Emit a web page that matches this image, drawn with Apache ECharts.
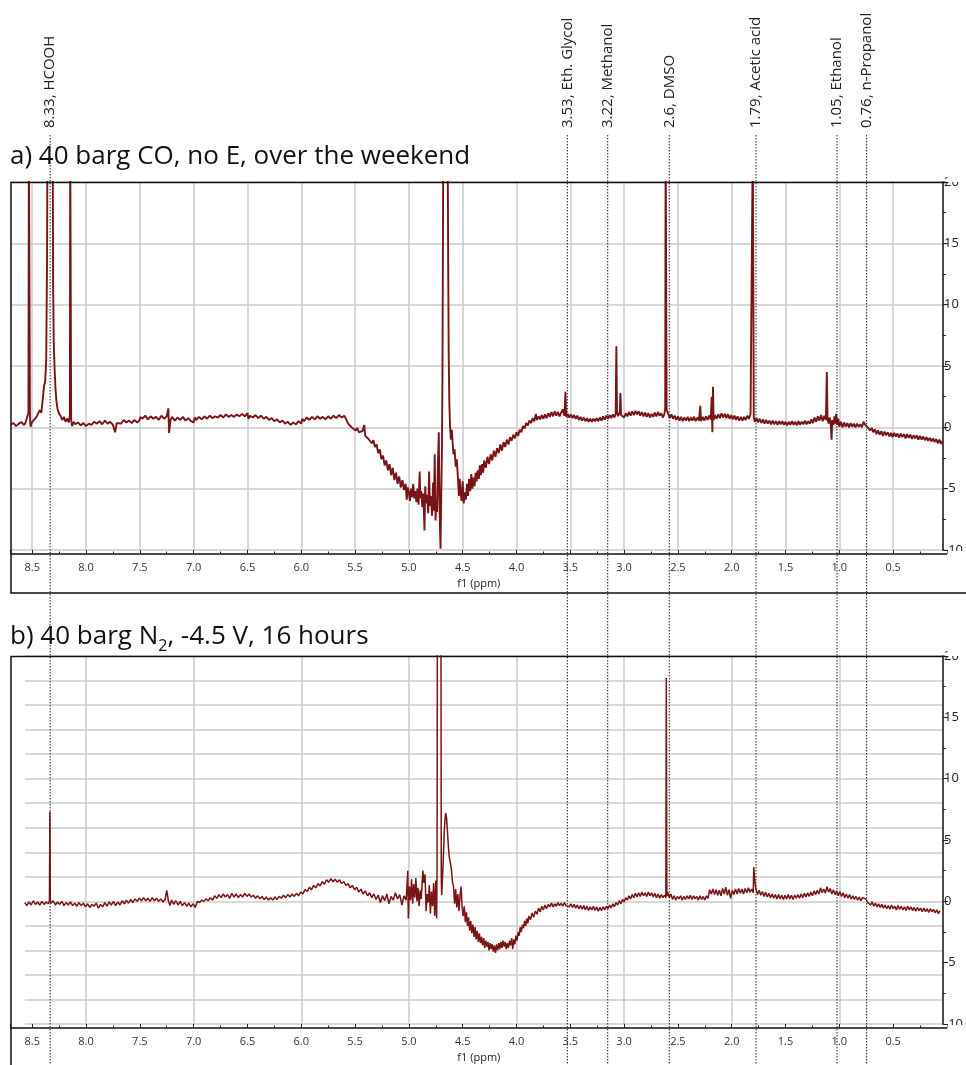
<!DOCTYPE html>
<html>
<head>
<meta charset="utf-8">
<script src="https://cdn.jsdelivr.net/npm/echarts@6.0.0/dist/echarts.min.js"></script>
<style>
html,body{margin:0;padding:0;background:#fff;}
#chart{width:966px;height:1065px;}
</style>
</head>
<body>
<div id="chart"></div>
<script>
// ---------- DATA ----------
const titleA = 'a) 40 barg CO, no E, over the weekend';
const titleB = 'b) 40 barg N{sub|2}, -4.5 V, 16 hours';
const axisName = 'f1 (ppm)';

// annotation lines: position (ppm, as drawn) and label text
const annotPpm = [8.335, 3.546, 3.172, 2.602, 1.799, 1.049, 0.775];
const annotText = ['8.33, HCOOH', '3.53, Eth. Glycol', '3.22, Methanol', '2.6, DMSO', '1.79, Acetic acid', '1.05, Ethanol', '0.76, n-Propanol'];

// panel a spectrum [ppm, intensity]
const spectrumA = [
[8.700,0.22],[8.675,0.35],[8.650,0.10],[8.625,0.30],[8.600,0.42],[8.575,0.18],[8.560,0.45],[8.545,0.30],[8.535,1.2],[8.531,24],[8.525,24],[8.521,0.8],[8.515,0.05],[8.505,0.35],
[8.490,0.55],[8.475,0.40],[8.460,0.85],[8.445,0.70],[8.430,1.40],[8.415,1.20],[8.400,2.50],[8.390,3.40],[8.380,3.70],[8.370,5.50],[8.362,14],[8.358,25],[8.310,25],[8.306,12],
[8.300,7.0],[8.292,4.7],[8.284,3.2],[8.276,2.2],[8.265,1.5],[8.250,1.1],[8.235,0.9],[8.220,0.6],[8.205,0.85],[8.190,0.45],[8.175,0.70],[8.160,0.40],[8.150,1.0],[8.147,24],[8.141,24],
[8.138,0.6],[8.130,0.1],[8.115,0.45],[8.100,0.25],[8.075,0.40],[8.050,0.15],[8.025,0.35],[8.000,0.10],[7.975,0.30],[7.950,0.20],[7.925,0.45],[7.900,0.30],[7.875,0.50],[7.850,0.25],
[7.825,0.55],[7.800,0.30],[7.775,0.45],[7.750,0.20],[7.730,-0.40],[7.715,0.35],[7.700,0.50],[7.675,0.30],[7.650,0.60],[7.625,0.40],[7.600,0.55],[7.575,0.35],[7.550,0.60],[7.525,0.40],
[7.505,0.55],[7.495,0.85],[7.475,0.70],[7.450,0.95],[7.425,0.65],[7.400,0.90],[7.375,0.70],[7.350,0.85],[7.325,0.60],[7.300,0.95],[7.275,0.70],[7.250,0.90],[7.235,1.55],[7.228,-0.45],
[7.215,0.60],[7.200,0.85],[7.175,0.55],[7.150,0.80],[7.125,0.60],[7.100,0.85],[7.075,0.55],[7.050,0.75],[7.025,0.50],[7.000,0.40],[6.990,0.80],[6.975,0.60],[6.950,0.85],[6.925,0.65],
[6.900,0.90],[6.875,0.70],[6.850,0.95],[6.825,0.75],[6.800,0.90],[6.775,0.80],[6.750,1.00],[6.725,0.80],[6.700,1.05],[6.675,0.85],[6.650,1.00],[6.625,0.85],[6.600,1.05],[6.575,0.90],
[6.550,1.10],[6.525,0.90],[6.500,1.15],[6.490,0.70],[6.475,0.95],[6.450,0.80],[6.425,1.00],[6.400,0.75],[6.375,0.95],[6.350,0.70],[6.325,0.85],[6.300,0.60],[6.275,0.75],[6.250,0.50],
[6.225,0.65],[6.200,0.40],[6.175,0.55],[6.150,0.30],[6.125,0.45],[6.100,0.20],[6.075,0.40],[6.050,0.25],[6.025,0.50],[6.000,0.30],[5.990,0.70],[5.975,0.50],[5.950,0.80],[5.925,0.60],
[5.900,0.85],[5.875,0.65],[5.850,0.90],[5.825,0.70],[5.800,0.85],[5.775,0.65],[5.750,0.90],[5.725,0.70],[5.700,0.95],[5.675,0.75],[5.650,1.00],[5.625,0.80],[5.600,0.95],[5.585,0.70],
[5.570,0.40],[5.555,0.20],[5.540,0.35],[5.525,-0.05],[5.510,0.10],[5.495,-0.25],[5.480,-0.05],[5.465,-0.40],[5.450,-0.45],[5.430,-0.30],[5.415,0.20],[5.405,-0.70],[5.390,-0.55],
[5.375,-0.95],[5.360,-0.80],[5.345,-1.30],[5.330,-1.05],[5.315,-1.60],[5.300,-1.40],[5.285,-2.10],[5.270,-1.80],[5.255,-2.60],[5.240,-2.30],[5.225,-3.10],[5.210,-2.70],[5.195,-3.50],
[5.180,-3.00],[5.165,-3.90],[5.150,-3.30],[5.135,-4.30],[5.120,-3.70],[5.105,-4.60],[5.090,-4.00],[5.075,-4.90],[5.060,-4.30],[5.045,-5.10],[5.030,-4.60],[5.020,-5.90],[5.010,-4.90],
[5.000,-5.30],[4.990,-6.00],[4.980,-5.00],[4.970,-5.70],[4.960,-4.60],[4.950,-5.80],[4.940,-5.20],[4.930,-6.10],[4.920,-5.00],[4.910,-6.30],[4.900,-3.60],[4.893,-5.80],[4.885,-5.20],
[4.875,-6.50],[4.865,-5.40],[4.855,-8.40],[4.848,-4.80],[4.840,-6.20],[4.830,-5.50],[4.820,-7.00],[4.812,-3.60],[4.805,-6.40],[4.795,-5.60],[4.785,-7.20],[4.775,-4.50],[4.768,-6.80],
[4.760,-2.20],[4.752,-7.60],[4.745,-5.90],[4.738,-6.90],[4.730,-3.00],[4.722,-0.40],[4.716,-6.00],[4.710,-8.50],[4.706,-9.90],[4.700,-6.00],[4.693,-2.00],[4.688,4.00],[4.684,14.0],
[4.680,24.0],[4.640,24.0],[4.635,14.0],[4.630,6.0],[4.624,2.0],[4.618,0.2],[4.610,-1.0],[4.600,-0.2],[4.592,-1.5],[4.585,-2.2],[4.575,-1.8],[4.565,-3.2],[4.555,-2.6],[4.545,-4.0],
[4.535,-5.6],[4.528,-4.2],[4.520,-5.2],[4.510,-6.0],[4.500,-4.4],[4.490,-6.2],[4.480,-5.3],[4.470,-5.9],[4.460,-4.6],[4.450,-5.6],[4.440,-4.2],[4.430,-5.2],[4.420,-3.8],[4.410,-5.0],
[4.400,-4.1],[4.390,-4.8],[4.380,-3.7],[4.370,-4.4],[4.360,-3.5],[4.350,-4.2],[4.340,-3.1],[4.330,-3.9],[4.320,-3.0],[4.310,-3.7],[4.300,-2.7],[4.285,-3.3],[4.270,-2.4],[4.255,-3.0],
[4.240,-2.2],[4.225,-2.7],[4.210,-1.9],[4.195,-2.4],[4.180,-1.7],[4.165,-2.1],[4.150,-1.4],[4.135,-1.9],[4.120,-1.2],[4.105,-1.6],[4.090,-1.0],[4.075,-1.4],[4.060,-0.8],[4.045,-1.1],
[4.030,-0.6],[4.015,-0.9],[4.000,-0.4],[3.985,-0.7],[3.970,-0.2],[3.955,-0.4],[3.940,0.1],[3.925,-0.1],[3.910,0.35],[3.895,0.15],[3.880,0.55],[3.865,0.35],[3.850,0.75],[3.835,0.50],
[3.820,1.10],[3.810,0.60],[3.795,0.90],[3.780,0.65],[3.765,1.00],[3.750,0.70],[3.735,1.05],[3.720,0.75],[3.705,1.15],[3.690,0.85],[3.675,1.25],[3.660,0.90],[3.645,1.30],[3.630,0.95],
[3.615,1.25],[3.600,0.90],[3.585,1.20],[3.570,1.45],[3.555,0.95],[3.545,2.9],[3.538,0.85],[3.525,1.10],[3.510,0.80],[3.495,1.05],[3.480,0.75],[3.465,1.00],[3.450,0.70],[3.435,0.95],
[3.420,0.60],[3.405,0.85],[3.390,0.55],[3.375,0.80],[3.360,0.50],[3.345,0.75],[3.330,0.45],[3.315,0.70],[3.300,0.45],[3.285,0.70],[3.270,0.50],[3.255,0.75],[3.240,0.50],[3.225,0.80],
[3.210,0.55],[3.195,0.90],[3.180,0.60],[3.165,0.95],[3.150,0.70],[3.135,1.00],[3.120,0.75],[3.105,1.05],[3.090,0.80],[3.078,1.10],[3.072,6.60],[3.066,1.20],[3.055,0.90],[3.040,1.30],
[3.034,2.80],[3.028,1.00],[3.015,1.10],[3.000,0.80],[2.985,1.15],[2.970,0.90],[2.955,1.25],[2.940,0.95],[2.925,1.30],[2.910,1.00],[2.895,1.35],[2.880,1.05],[2.865,1.30],[2.850,0.95],
[2.835,1.25],[2.820,0.90],[2.805,1.20],[2.790,0.85],[2.775,1.15],[2.760,0.80],[2.745,1.10],[2.730,0.85],[2.715,1.20],[2.700,0.90],[2.685,1.25],[2.670,0.95],[2.655,1.15],[2.640,0.80],
[2.625,1.10],[2.618,1.60],[2.614,24],[2.608,24],[2.605,1.50],[2.600,1.30],[2.590,1.10],[2.575,0.75],[2.560,1.05],[2.545,0.70],[2.530,0.95],[2.515,0.60],[2.500,0.90],[2.485,0.55],
[2.470,0.85],[2.455,0.50],[2.440,0.80],[2.425,0.55],[2.410,0.85],[2.395,0.50],[2.380,0.80],[2.365,0.55],[2.350,0.85],[2.335,0.50],[2.320,0.80],[2.305,0.55],[2.292,1.75],[2.286,0.50],
[2.270,0.85],[2.255,0.55],[2.240,0.90],[2.225,0.60],[2.210,0.95],[2.195,0.65],[2.186,2.50],[2.180,-0.40],[2.174,3.30],[2.168,0.60],[2.155,1.00],[2.140,0.70],[2.125,1.05],[2.110,0.75],
[2.095,1.15],[2.080,0.80],[2.065,1.10],[2.050,0.75],[2.035,1.05],[2.020,0.70],[2.005,1.00],[1.990,0.65],[1.975,0.95],[1.960,0.60],[1.945,0.90],[1.930,0.55],[1.915,0.85],[1.900,0.55],
[1.885,0.85],[1.870,0.60],[1.855,0.95],[1.840,0.70],[1.825,1.10],[1.810,1.00],[1.804,24],[1.798,24],[1.795,0.80],[1.785,0.45],[1.770,0.75],[1.755,0.40],[1.740,0.70],[1.725,0.35],
[1.710,0.65],[1.695,0.30],[1.680,0.60],[1.665,0.30],[1.650,0.55],[1.635,0.25],[1.620,0.55],[1.605,0.25],[1.590,0.50],[1.575,0.20],[1.560,0.50],[1.545,0.25],[1.530,0.50],[1.515,0.20],
[1.500,0.45],[1.485,0.15],[1.470,0.45],[1.455,0.20],[1.440,0.50],[1.425,0.20],[1.410,0.45],[1.395,0.15],[1.380,0.50],[1.365,0.20],[1.350,0.45],[1.335,0.25],[1.320,0.55],[1.305,0.25],
[1.290,0.50],[1.275,0.30],[1.260,0.65],[1.245,0.35],[1.230,0.80],[1.215,0.45],[1.200,0.90],[1.185,0.55],[1.170,1.00],[1.155,0.50],[1.140,0.95],[1.125,0.60],[1.116,4.50],[1.110,0.70],
[1.100,0.30],[1.090,0.80],[1.080,0.25],[1.072,-1.00],[1.066,0.60],[1.055,0.20],[1.045,0.90],[1.038,0.30],[1.030,1.10],[1.020,0.20],[1.010,0.70],[1.000,0.05],[0.985,0.45],[0.970,0.00],
[0.955,0.40],[0.940,0.05],[0.925,0.35],[0.910,0.00],[0.895,0.35],[0.880,0.05],[0.865,0.30],[0.850,0.00],[0.835,0.30],[0.820,0.05],[0.805,0.25],[0.790,0.00],[0.775,0.45],[0.760,0.20],
[0.745,0.35],[0.730,-0.05],[0.715,-0.25],[0.700,-0.05],[0.685,-0.40],[0.670,-0.15],[0.655,-0.55],[0.640,-0.25],[0.625,-0.60],[0.610,-0.30],[0.595,-0.70],[0.580,-0.35],[0.565,-0.65],
[0.550,-0.40],[0.535,-0.75],[0.520,-0.45],[0.505,-0.80],[0.490,-0.45],[0.475,-0.75],[0.460,-0.50],[0.445,-0.85],[0.430,-0.50],[0.415,-0.80],[0.400,-0.55],[0.385,-0.90],[0.370,-0.55],
[0.355,-0.85],[0.340,-0.60],[0.325,-0.95],[0.310,-0.65],[0.295,-0.90],[0.280,-0.65],[0.265,-1.00],[0.250,-0.70],[0.235,-1.00],[0.220,-0.75],[0.205,-1.05],[0.190,-0.80],[0.175,-1.10],
[0.160,-0.85],[0.145,-1.15],[0.130,-0.90],[0.115,-1.20],[0.100,-0.95],[0.085,-1.30],[0.070,-1.00],[0.055,-1.35],[0.040,-1.10]
];

// panel b spectrum [ppm, intensity]
const spectrumB = [
[8.570,-0.10],[8.550,-0.35],[8.530,-0.05],[8.510,-0.30],[8.490,0.05],[8.470,-0.25],[8.450,-0.05],[8.430,-0.30],[8.410,0.00],[8.390,-0.25],[8.370,-0.05],[8.350,-0.20],[8.340,0.05],
[8.336,7.30],[8.332,0.10],[8.325,-0.15],[8.305,0.05],[8.285,-0.30],[8.265,-0.05],[8.245,-0.25],[8.225,0.00],[8.205,-0.35],[8.185,-0.10],[8.165,-0.30],[8.145,-0.05],[8.125,-0.35],
[8.105,-0.15],[8.085,-0.40],[8.065,-0.10],[8.045,-0.35],[8.025,-0.15],[8.005,-0.45],[7.985,-0.20],[7.965,-0.50],[7.945,-0.25],[7.925,-0.40],[7.905,-0.15],[7.885,-0.55],[7.865,-0.25],
[7.845,-0.45],[7.825,-0.10],[7.805,-0.40],[7.785,-0.05],[7.765,-0.30],[7.745,0.00],[7.725,-0.35],[7.705,-0.05],[7.685,-0.30],[7.665,0.05],[7.645,-0.20],[7.625,0.10],[7.605,-0.15],
[7.585,0.15],[7.565,-0.10],[7.545,0.20],[7.525,0.00],[7.505,0.25],[7.485,0.05],[7.465,0.30],[7.445,0.05],[7.425,0.25],[7.405,0.00],[7.385,0.30],[7.365,0.05],[7.345,0.25],[7.325,0.00],
[7.305,0.20],[7.285,-0.05],[7.265,0.15],[7.250,0.90],[7.235,0.05],[7.220,-0.35],[7.205,0.10],[7.185,-0.25],[7.165,0.05],[7.145,-0.30],[7.125,0.00],[7.105,-0.35],[7.085,-0.10],
[7.065,-0.40],[7.045,-0.15],[7.025,-0.45],[7.005,-0.20],[6.985,-0.50],[6.965,0.00],[6.945,-0.10],[6.925,0.10],[6.905,0.00],[6.885,0.20],[6.865,0.05],[6.845,0.30],[6.825,0.10],
[6.805,0.45],[6.785,0.25],[6.765,0.55],[6.745,0.30],[6.725,0.60],[6.705,0.35],[6.685,0.55],[6.665,0.25],[6.645,0.65],[6.625,0.35],[6.605,0.60],[6.585,0.30],[6.565,0.55],[6.545,0.35],
[6.525,0.65],[6.505,0.40],[6.485,0.60],[6.465,0.35],[6.445,0.50],[6.425,0.25],[6.405,0.45],[6.385,0.20],[6.365,0.40],[6.345,0.15],[6.325,0.35],[6.305,0.10],[6.285,0.30],[6.265,0.10],
[6.245,0.35],[6.225,0.15],[6.205,0.40],[6.185,0.25],[6.165,0.50],[6.145,0.30],[6.125,0.55],[6.105,0.35],[6.085,0.60],[6.065,0.40],[6.045,0.65],[6.025,0.45],[6.005,0.75],[5.985,0.60],
[5.965,0.95],[5.945,0.80],[5.925,1.15],[5.905,0.95],[5.885,1.30],[5.865,1.10],[5.845,1.45],[5.825,1.25],[5.805,1.60],[5.785,1.40],[5.765,1.75],[5.745,1.55],[5.725,1.85],[5.705,1.60],
[5.685,1.80],[5.665,1.55],[5.645,1.75],[5.625,1.45],[5.605,1.60],[5.585,1.30],[5.565,1.45],[5.545,1.10],[5.525,1.30],[5.505,0.95],[5.485,1.15],[5.465,0.75],[5.445,1.00],[5.425,0.60],
[5.405,0.85],[5.385,0.45],[5.365,0.70],[5.345,0.30],[5.325,0.60],[5.305,0.15],[5.285,0.50],[5.265,-0.10],[5.245,0.45],[5.225,0.05],[5.205,0.60],[5.185,-0.20],[5.165,0.40],[5.145,0.10],
[5.125,0.70],[5.105,0.20],[5.085,0.55],[5.065,-0.30],[5.045,0.45],[5.025,0.10],[5.010,2.50],[5.005,-1.40],[4.995,1.20],[4.985,0.10],[4.975,1.80],[4.965,-0.20],[4.955,1.40],[4.945,0.30],
[4.935,1.90],[4.925,0.00],[4.915,1.10],[4.905,-0.40],[4.895,0.90],[4.885,0.20],[4.870,2.50],[4.860,1.50],[4.850,2.20],[4.840,-0.80],[4.830,0.60],[4.820,-0.10],[4.810,1.30],[4.800,-1.00],
[4.790,0.80],[4.780,-0.40],[4.770,1.50],[4.760,-1.20],[4.750,1.70],[4.742,-1.40],[4.738,3.0],[4.735,25],[4.702,25],[4.699,2.0],[4.695,0.50],[4.688,1.80],[4.680,3.50],[4.672,5.50],
[4.665,6.60],[4.658,7.20],[4.650,6.80],[4.642,5.80],[4.634,4.60],[4.625,3.60],[4.615,3.20],[4.605,2.60],[4.595,1.60],[4.585,1.20],[4.575,-0.20],[4.565,1.00],[4.555,-0.50],[4.545,0.60],
[4.535,-0.80],[4.525,0.40],[4.515,1.20],[4.505,-0.50],[4.495,-1.20],[4.485,-0.40],[4.475,-1.70],[4.465,-0.90],[4.455,-2.00],[4.445,-1.30],[4.435,-2.40],[4.425,-1.60],[4.415,-2.60],
[4.405,-1.90],[4.395,-2.90],[4.385,-2.10],[4.375,-3.10],[4.365,-2.40],[4.355,-3.30],[4.345,-2.60],[4.335,-3.40],[4.325,-2.90],[4.315,-3.60],[4.305,-3.00],[4.295,-3.80],[4.285,-3.20],
[4.275,-3.70],[4.265,-3.30],[4.255,-4.00],[4.245,-3.40],[4.235,-3.90],[4.225,-3.50],[4.215,-4.10],[4.205,-3.60],[4.195,-4.20],[4.185,-3.50],[4.175,-4.00],[4.165,-3.40],[4.155,-3.90],
[4.145,-3.30],[4.135,-3.80],[4.125,-3.20],[4.115,-3.70],[4.105,-3.30],[4.095,-3.90],[4.085,-3.40],[4.075,-3.80],[4.065,-3.20],[4.055,-3.60],[4.045,-3.00],[4.035,-3.90],[4.025,-3.10],
[4.015,-3.50],[4.005,-2.80],[3.995,-3.20],[3.985,-2.50],[3.975,-2.80],[3.965,-2.10],[3.955,-2.50],[3.945,-1.90],[3.935,-2.20],[3.925,-1.60],[3.915,-2.00],[3.905,-1.40],[3.895,-1.80],
[3.885,-1.20],[3.870,-1.50],[3.855,-0.95],[3.840,-1.30],[3.825,-0.80],[3.810,-1.05],[3.795,-0.55],[3.780,-0.85],[3.765,-0.40],[3.750,-0.70],[3.735,-0.30],[3.720,-0.60],[3.705,-0.25],
[3.690,-0.45],[3.675,-0.15],[3.660,-0.45],[3.645,-0.20],[3.630,-0.40],[3.615,-0.10],[3.600,-0.35],[3.585,-0.15],[3.570,-0.40],[3.555,-0.10],[3.540,-0.35],[3.525,-0.20],[3.510,-0.45],
[3.495,-0.20],[3.480,-0.50],[3.465,-0.25],[3.450,-0.55],[3.435,-0.30],[3.420,-0.60],[3.405,-0.35],[3.390,-0.65],[3.375,-0.35],[3.360,-0.70],[3.345,-0.40],[3.330,-0.75],[3.315,-0.45],
[3.300,-0.70],[3.285,-0.40],[3.270,-0.75],[3.255,-0.45],[3.240,-0.80],[3.225,-0.50],[3.210,-0.75],[3.195,-0.45],[3.180,-0.70],[3.165,-0.40],[3.150,-0.60],[3.135,-0.30],[3.120,-0.55],
[3.105,-0.20],[3.090,-0.45],[3.075,-0.10],[3.060,-0.30],[3.045,0.05],[3.030,-0.20],[3.015,0.15],[3.000,-0.05],[2.985,0.30],[2.970,0.10],[2.955,0.45],[2.940,0.20],[2.925,0.55],[2.910,0.30],
[2.895,0.65],[2.880,0.35],[2.865,0.70],[2.850,0.40],[2.835,0.75],[2.820,0.45],[2.805,0.70],[2.790,0.40],[2.775,0.75],[2.760,0.45],[2.745,0.70],[2.730,0.35],[2.715,0.65],[2.700,0.30],
[2.685,0.60],[2.670,0.25],[2.655,0.55],[2.640,0.30],[2.625,0.50],[2.612,0.30],[2.608,18.2],[2.603,0.40],[2.595,0.75],[2.580,0.30],[2.565,0.60],[2.550,0.15],[2.535,0.45],[2.520,0.10],
[2.505,0.40],[2.490,0.20],[2.475,0.45],[2.460,0.10],[2.445,0.40],[2.430,0.15],[2.415,0.45],[2.400,0.20],[2.385,0.50],[2.370,0.15],[2.355,0.45],[2.340,0.20],[2.325,0.40],[2.310,0.10],
[2.295,0.45],[2.280,0.15],[2.265,0.40],[2.250,0.10],[2.235,0.45],[2.220,0.25],[2.205,0.95],[2.190,0.60],[2.175,1.00],[2.160,0.55],[2.145,0.95],[2.130,0.50],[2.115,0.90],[2.100,0.45],
[2.085,1.05],[2.070,0.60],[2.055,1.15],[2.040,0.50],[2.025,0.95],[2.010,0.25],[1.995,0.90],[1.980,0.55],[1.965,1.00],[1.950,0.60],[1.935,1.05],[1.920,0.65],[1.905,1.00],[1.890,0.60],
[1.875,1.05],[1.860,0.70],[1.845,1.10],[1.830,0.75],[1.815,1.00],[1.800,0.70],[1.795,2.80],[1.785,1.60],[1.775,1.00],[1.760,0.55],[1.745,0.90],[1.730,0.50],[1.715,0.80],[1.700,0.40],
[1.685,0.75],[1.670,0.35],[1.655,0.65],[1.640,0.30],[1.625,0.60],[1.610,0.25],[1.595,0.55],[1.580,0.20],[1.565,0.55],[1.550,0.20],[1.535,0.50],[1.520,0.15],[1.505,0.50],[1.490,0.20],
[1.475,0.55],[1.460,0.20],[1.445,0.50],[1.430,0.15],[1.415,0.50],[1.400,0.25],[1.385,0.55],[1.370,0.25],[1.355,0.60],[1.340,0.30],[1.325,0.65],[1.310,0.35],[1.295,0.70],[1.280,0.40],
[1.265,0.75],[1.250,0.45],[1.235,0.85],[1.220,0.55],[1.205,0.90],[1.190,0.60],[1.175,1.10],[1.160,0.70],[1.145,1.00],[1.130,0.65],[1.115,1.20],[1.100,0.75],[1.085,1.05],[1.070,0.60],
[1.055,0.95],[1.040,0.55],[1.025,0.85],[1.010,0.45],[0.995,0.80],[0.980,0.40],[0.965,0.70],[0.950,0.30],[0.935,0.60],[0.920,0.25],[0.905,0.55],[0.890,0.20],[0.875,0.45],[0.860,0.15],
[0.845,0.40],[0.830,0.10],[0.815,0.35],[0.800,0.05],[0.785,0.30],[0.770,0.40],[0.755,0.20],[0.740,-0.05],[0.725,0.00],[0.710,-0.30],[0.695,-0.05],[0.680,-0.40],[0.665,-0.15],
[0.650,-0.45],[0.635,-0.20],[0.620,-0.50],[0.605,-0.25],[0.590,-0.55],[0.575,-0.30],[0.560,-0.60],[0.545,-0.35],[0.530,-0.65],[0.515,-0.30],[0.500,-0.60],[0.485,-0.40],[0.470,-0.70],
[0.455,-0.35],[0.440,-0.65],[0.425,-0.40],[0.410,-0.70],[0.395,-0.45],[0.380,-0.75],[0.365,-0.40],[0.350,-0.70],[0.335,-0.45],[0.320,-0.75],[0.305,-0.50],[0.290,-0.80],[0.275,-0.50],
[0.260,-0.75],[0.245,-0.55],[0.230,-0.85],[0.215,-0.55],[0.200,-0.85],[0.185,-0.60],[0.170,-0.90],[0.155,-0.60],[0.140,-0.85],[0.125,-0.65],[0.110,-0.95],[0.095,-0.70],[0.080,-1.00],
[0.065,-0.75]
];

// axis ranges and ticks
const ppmMin = 0, ppmMax = 8.7, ppmTickStep = 0.5, ppmGridStepB = 1;
const intMin = -10, intMax = 20, intTickStep = 5, intGridStepB = 2;

// ---------- CHART ----------
const LINE_COLOR = '#7a1315';
const GRID_COLOR = '#cbcbcb';
const FONT = '"Open Sans", "Noto Sans", sans-serif';

const chart = echarts.init(document.getElementById('chart'), null, {renderer: 'canvas'});

function xMainAxis(gridIndex, showSplit) {
  return {
    type: 'value', gridIndex: gridIndex, inverse: true,
    min: ppmMin, max: ppmMax, interval: ppmTickStep,
    position: 'bottom', offset: 4,
    name: axisName, nameLocation: 'middle', nameGap: 24,
    nameTextStyle: {fontSize: 11, color: '#222', fontFamily: FONT},
    axisLine: {show: true, onZero: false, lineStyle: {color: '#111', width: 1.5}},
    axisTick: {show: true, inside: true, length: 4, lineStyle: {color: '#222', width: 1}},
    minorTick: {show: true, splitNumber: 2, length: 2.5, lineStyle: {color: '#222', width: 1}},
    axisLabel: {show: true, margin: 8, fontSize: 11, color: '#333', fontFamily: FONT,
      showMinLabel: false, showMaxLabel: false,
      formatter: v => v.toFixed(1)},
    splitLine: {show: showSplit, showMinLine: false, showMaxLine: false,
      lineStyle: {color: GRID_COLOR, width: 1.5}}
  };
}
function yMainAxis(gridIndex, showSplit) {
  return {
    type: 'value', gridIndex: gridIndex, position: 'right', offset: -4,
    min: intMin, max: intMax, interval: intTickStep,
    axisLine: {show: true, onZero: false, lineStyle: {color: '#111', width: 1.5}},
    axisTick: {show: true, inside: false, length: 5, lineStyle: {color: '#222', width: 1}},
    minorTick: {show: true, splitNumber: 2, length: 3, lineStyle: {color: '#222', width: 1}},
    axisLabel: {show: true, margin: 1, fontSize: 13, color: '#222', fontFamily: FONT},
    splitLine: {show: showSplit, lineStyle: {color: GRID_COLOR, width: 1.5}}
  };
}

const option = {
  backgroundColor: '#fff',
  animation: false,
  title: [
    {text: titleA, left: 10, top: 144, padding: 0,
     textStyle: {fontSize: 26, fontWeight: 'normal', color: '#111', fontFamily: FONT}},
    {text: titleB, left: 10, top: 619, padding: 0,
     textStyle: {fontSize: 26, fontWeight: 'normal', color: '#111', fontFamily: FONT,
       rich: {sub: {fontSize: 16, color: '#111', fontFamily: FONT, padding: [19, 0, 0, 0], verticalAlign: 'top'}}}}
  ],
  grid: [
    {left: 10.7, width: 939.6, top: 182, height: 368},
    {left: 10.7, width: 939.6, top: 656, height: 368},
    {left: 25, right: 23, top: 656, height: 368},
    {left: 10.7, width: 939.6, top: 135, height: 935}
  ],
  xAxis: [
    xMainAxis(0, true),
    xMainAxis(1, false),
    {type: 'value', gridIndex: 1, inverse: true, min: ppmMin, max: ppmMax, interval: ppmGridStepB,
     axisLine: {show: false}, axisTick: {show: false}, axisLabel: {show: false},
     splitLine: {show: true, showMinLine: false, showMaxLine: false, lineStyle: {color: GRID_COLOR, width: 1.5}}},
    {type: 'value', gridIndex: 2, show: false, inverse: true, min: ppmMin, max: ppmMax},
    {type: 'value', gridIndex: 3, show: false, inverse: true, min: ppmMin, max: ppmMax}
  ],
  yAxis: [
    yMainAxis(0, true),
    yMainAxis(1, false),
    {type: 'value', gridIndex: 2, min: intMin, max: intMax, interval: intGridStepB,
     axisLine: {show: false}, axisTick: {show: false}, axisLabel: {show: false},
     splitLine: {show: true, lineStyle: {color: GRID_COLOR, width: 1.5}}},
    {type: 'value', gridIndex: 3, show: false, min: 0, max: 1}
  ],
  series: [
    {type: 'line', xAxisIndex: 0, yAxisIndex: 0, data: spectrumA, showSymbol: false, symbol: 'none',
     clip: true, lineStyle: {color: LINE_COLOR, width: 1.9}, z: 3},
    {type: 'line', xAxisIndex: 1, yAxisIndex: 1, data: spectrumB, showSymbol: false, symbol: 'none',
     clip: true, lineStyle: {color: LINE_COLOR, width: 1.5}, z: 3},
    {type: 'custom', xAxisIndex: 4, yAxisIndex: 3, z: 6,
     data: annotPpm.map((p, i) => [p, i]),
     renderItem: function (params, api) {
       const x = api.coord([api.value(0), 0])[0];
       const cs = params.coordSys;
       return {type: 'group', children: [
         {type: 'line', shape: {x1: x, y1: cs.y, x2: x, y2: cs.y + cs.height},
          style: {stroke: '#222', lineWidth: 1, lineDash: [1.5, 1.5]}},
         {type: 'text', x: x, y: cs.y - 7, rotation: Math.PI / 2,
          style: {text: annotText[api.value(1)], fill: '#222', fontSize: 15, fontFamily: FONT,
                  align: 'left', verticalAlign: 'middle'}}
       ]};
     }}
  ],
  graphic: [
    {type: 'polyline', z: 10, silent: true, shape: {points: [[946, 182.5], [11, 182.5], [11, 593], [966, 593]]},
     style: {stroke: '#111', lineWidth: 1.5, fill: null}},
    {type: 'polyline', z: 10, silent: true, shape: {points: [[946, 656.5], [11, 656.5], [11, 1070]]},
     style: {stroke: '#111', lineWidth: 1.5, fill: null}},
    {type: 'rect', z: 20, silent: true, shape: {x: 947.5, y: 165, width: 20, height: 17}, style: {fill: '#fff'}},
    {type: 'rect', z: 20, silent: true, shape: {x: 947.5, y: 551, width: 20, height: 22}, style: {fill: '#fff'}},
    {type: 'rect', z: 20, silent: true, shape: {x: 947.5, y: 640, width: 20, height: 16}, style: {fill: '#fff'}},
    {type: 'rect', z: 20, silent: true, shape: {x: 947.5, y: 1025, width: 20, height: 20}, style: {fill: '#fff'}}
  ]
};
chart.setOption(option);
</script>
</body>
</html>
